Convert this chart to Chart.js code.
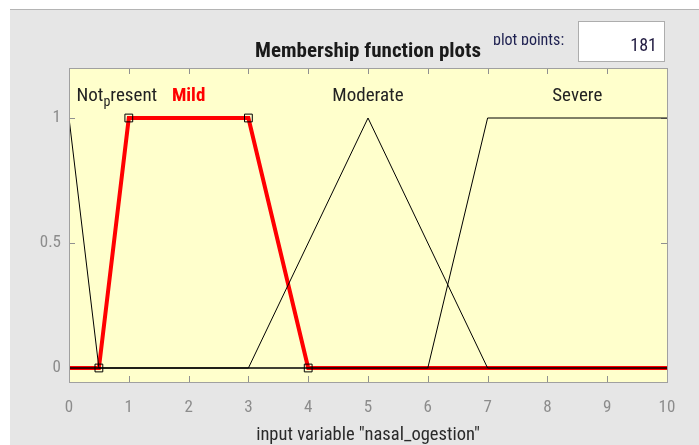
<!DOCTYPE html>
<html lang="en">
<head>
<meta charset="UTF-8">
<title>Membership function plots</title>
<script src="https://cdn.jsdelivr.net/npm/chart.js"></script>
<style>
  html, body { margin: 0; padding: 0; background: #fff; overflow: hidden; }
  #wrap { width: 699px; height: 445px; }
</style>
</head>
<body>
<div id="wrap"><canvas id="mfChart" width="699" height="445"></canvas></div>
<script>
const FONT = '"Roboto Condensed", Roboto, "Liberation Sans", Arial, sans-serif';

// axis ticks
const xTickValues = [0, 1, 2, 3, 4, 5, 6, 7, 8, 9, 10];
const yTickValues = [0, 0.5, 1];

// membership functions of "nasal_ogestion" (break points)
const mfNames = ['Not_present', 'Mild', 'Moderate', 'Severe'];
const notPresentX = [0, 0.5, 10];
const notPresentY = [1, 0, 0];
const mildX = [0, 0.5, 1, 3, 4, 10];
const mildY = [0, 0, 1, 1, 0, 0];
const moderateX = [0, 3, 5, 7, 10];
const moderateY = [0, 0, 1, 0, 0];
const severeX = [0, 6, 7, 10];
const severeY = [0, 0, 1, 1];

// parameter handles of the selected MF (Mild)
const handleX = [0.5, 1, 3, 4];
const handleY = [0, 1, 1, 0];

// where each MF name sits (data units)
const labelX = [0.8, 2, 5, 8.5];
const labelY = 1.1;

const plotPoints = 181;

const toPts = (xs, ys) => xs.map((x, i) => ({ x: x, y: ys[i] }));

// backgrounds, title, "plot points" box
const framePlugin = {
  id: 'frame',
  beforeDraw(chart) {
    const c = chart.ctx;
    const a = chart.chartArea;
    c.save();
    c.fillStyle = '#ffffff';
    c.fillRect(0, 0, chart.width, chart.height);
    c.fillStyle = '#e6e6e6';
    c.fillRect(10, 10, chart.width - 10, chart.height - 10);
    c.fillStyle = '#b4b4b4';
    c.fillRect(10, 9, chart.width - 10, 1);
    c.fillStyle = '#ffffcc';
    c.fillRect(a.left, a.top, a.right - a.left, a.bottom - a.top);

    c.fillStyle = '#1a1a1a';
    c.font = 'bold 21px ' + FONT;
    c.textAlign = 'center';
    c.textBaseline = 'alphabetic';
    c.fillText('Membership function plots', (a.left + a.right) / 2, 57);

    // label sits in a box that cuts it off at the baseline
    c.save();
    c.beginPath();
    c.rect(480, 20, 100, 25);
    c.clip();
    c.fillStyle = '#1e2050';
    c.font = '16px ' + FONT;
    c.textAlign = 'left';
    c.fillText('plot points:', 493, 44.5);
    c.restore();

    c.fillStyle = '#ffffff';
    c.fillRect(578, 21, 87, 41);
    c.strokeStyle = '#adadad';
    c.lineWidth = 1;
    c.strokeRect(578.5, 21.5, 86, 40);
    c.fillStyle = '#201a40';
    c.font = '18px ' + FONT;
    c.textAlign = 'right';
    c.fillText(String(plotPoints), 657, 51);
    c.restore();
  },
  beforeDatasetsDraw(chart) {
    const c = chart.ctx;
    const a = chart.chartArea;
    const xs = chart.scales.x;
    const ys = chart.scales.y;
    c.save();
    c.strokeStyle = '#909090';
    c.lineWidth = 1;
    c.beginPath();
    xTickValues.forEach(v => {
      const px = Math.round(xs.getPixelForValue(v)) + 0.5;
      c.moveTo(px, a.bottom);
      c.lineTo(px, a.bottom - 6);
      c.moveTo(px, a.top);
      c.lineTo(px, a.top + 6);
    });
    yTickValues.forEach(v => {
      const py = Math.round(ys.getPixelForValue(v)) + 0.5;
      c.moveTo(a.left, py);
      c.lineTo(a.left + 6, py);
      c.moveTo(a.right, py);
      c.lineTo(a.right - 6, py);
    });
    c.stroke();
    c.restore();
  },
  afterDatasetsDraw(chart) {
    const c = chart.ctx;
    const a = chart.chartArea;
    const xs = chart.scales.x;
    const ys = chart.scales.y;
    c.save();
    c.strokeStyle = '#a0a0a0';
    c.lineWidth = 1;
    c.strokeRect(a.left + 0.5, a.top + 0.5, a.right - a.left, a.bottom - a.top);

    const base = ys.getPixelForValue(labelY) + 8;
    c.textBaseline = 'alphabetic';
    mfNames.forEach((name, i) => {
      const px = xs.getPixelForValue(labelX[i]);
      if (i === 1) {
        c.fillStyle = '#ff0000';
        c.font = 'bold 19px ' + FONT;
      } else {
        c.fillStyle = '#222222';
        c.font = '19px ' + FONT;
      }
      if (name.indexOf('_') > 0) {
        // TeX style: the letter after "_" is a subscript
        const parts = name.split('_');
        const head = parts[0], sub = parts[1].charAt(0), tail = parts[1].slice(1);
        c.font = '19px ' + FONT;
        const wHead = c.measureText(head).width;
        const wTail = c.measureText(tail).width;
        c.font = '14px ' + FONT;
        const wSub = c.measureText(sub).width;
        const x0 = Math.max(a.left + 7, px - (wHead + wSub + wTail) / 2);
        c.textAlign = 'left';
        c.font = '19px ' + FONT;
        c.fillText(head, x0, base);
        c.font = '14px ' + FONT;
        c.fillText(sub, x0 + wHead, base + 5);
        c.font = '19px ' + FONT;
        c.fillText(tail, x0 + wHead + wSub, base);
      } else {
        c.textAlign = 'center';
        c.fillText(name, px, base);
      }
    });
    c.restore();
  }
};

const ctx = document.getElementById('mfChart').getContext('2d');
new Chart(ctx, {
  type: 'scatter',
  data: {
    datasets: [
      {
        label: 'handles',
        data: toPts(handleX, handleY),
        showLine: false,
        pointStyle: 'rect',
        pointRadius: 5.5,
        borderColor: '#000000',
        borderWidth: 1,
        backgroundColor: 'rgba(0,0,0,0)'
      },
      {
        label: mfNames[0],
        data: toPts(notPresentX, notPresentY),
        showLine: true,
        borderColor: '#000000',
        borderWidth: 1,
        pointRadius: 0
      },
      {
        label: mfNames[2],
        data: toPts(moderateX, moderateY),
        showLine: true,
        borderColor: '#000000',
        borderWidth: 1,
        pointRadius: 0
      },
      {
        label: mfNames[3],
        data: toPts(severeX, severeY),
        showLine: true,
        borderColor: '#000000',
        borderWidth: 1,
        pointRadius: 0
      },
      {
        label: mfNames[1],
        data: toPts(mildX, mildY),
        showLine: true,
        borderColor: '#ff0000',
        borderWidth: 4,
        pointRadius: 0
      }
    ]
  },
  options: {
    responsive: false,
    animation: false,
    devicePixelRatio: 1,
    layout: { padding: { left: 10, right: 32, top: 68, bottom: 0 } },
    plugins: {
      legend: { display: false },
      tooltip: { enabled: false }
    },
    scales: {
      x: {
        type: 'linear',
        min: 0,
        max: 10,
        afterBuildTicks: s => { s.ticks = xTickValues.map(v => ({ value: v })); },
        afterFit: s => { s.height = 63; },
        grid: { display: false, drawTicks: false },
        border: { display: false },
        ticks: {
          color: '#8c8c8c',
          padding: 16,
          font: { family: FONT, size: 17 },
          callback: v => String(v)
        },
        title: {
          display: true,
          text: 'input variable "nasal_ogestion"',
          color: '#2a2a2a',
          padding: 0,
          font: { family: FONT, size: 18.5, lineHeight: 1 }
        }
      },
      y: {
        type: 'linear',
        min: -0.056,
        max: 1.2,
        afterBuildTicks: s => { s.ticks = yTickValues.map(v => ({ value: v })); },
        afterFit: s => { s.width = 59; },
        grid: { display: false, drawTicks: false },
        border: { display: false },
        ticks: {
          color: '#8c8c8c',
          padding: 8,
          font: { family: FONT, size: 17 },
          callback: v => String(v)
        }
      }
    }
  },
  plugins: [framePlugin]
});
</script>
</body>
</html>
